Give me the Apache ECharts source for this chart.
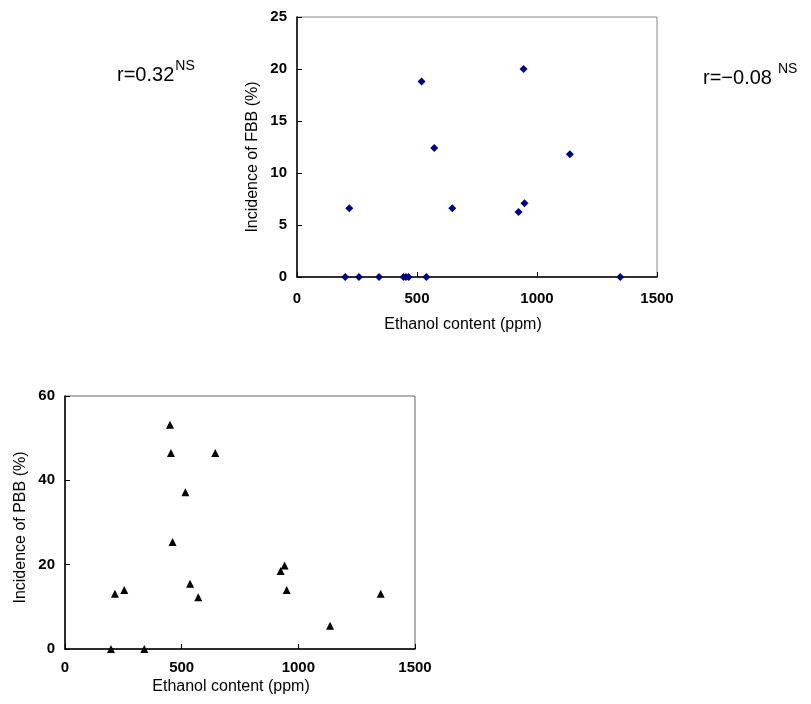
<!DOCTYPE html>
<html>
<head>
<meta charset="utf-8">
<script src="https://cdn.jsdelivr.net/npm/echarts@6/dist/echarts.min.js"></script>
<style>
html,body{margin:0;padding:0;background:#fff;}
#c{width:811px;height:704px;}
</style>
</head>
<body>
<div id="c"></div>
<script>
// Top chart: Ethanol content vs Incidence of FBB
var fbbEthanol = [201, 218, 258, 342, 444, 454, 465, 519, 539, 572, 647, 923, 944, 948, 1137, 1347];
var fbbIncidence = [0, 6.6, 0, 0, 0, 0, 0, 18.8, 0, 12.4, 6.6, 6.25, 20, 7.1, 11.8, 0];
// Bottom chart: Ethanol content vs Incidence of PBB
var pbbEthanol = [197, 214, 254, 340, 450, 454, 461, 516, 536, 571, 644, 924, 941, 950, 1136, 1353];
var pbbIncidence = [0, 13.1, 14, 0, 53.2, 46.5, 25.4, 37.2, 15.5, 12.3, 46.5, 18.5, 19.8, 14, 5.5, 13.1];

var xTicks = [0, 500, 1000, 1500];
var fbbYTicks = [0, 5, 10, 15, 20, 25];
var pbbYTicks = [0, 20, 40, 60];

var xTitle = 'Ethanol content (ppm)';
var fbbTitle = 'Incidence of FBB (%)';
var pbbTitle = 'Incidence of PBB (%)';
var rLabels = ['r=0.32', 'r=\u22120.08'];
var sigLabel = 'NS';

function pairs(xs, ys){ return xs.map(function(x,i){ return [x, ys[i]]; }); }

var FONT = '"Liberation Sans", Arial, sans-serif';
var tickLabel = {color:'#000', fontSize:15, fontWeight:'bold', fontFamily:FONT, formatter:function(v){return String(v);}};

function xAxis(gi, gap, margin, shift){
  return {
    type:'value', gridIndex:gi, min:xTicks[0], max:xTicks[xTicks.length-1], interval:500,
    axisLine:{show:true, lineStyle:{color:'#000', width:1.5}},
    axisTick:{show:true, inside:true, length:5, lineStyle:{color:'#000'}},
    axisLabel:Object.assign({margin:margin}, tickLabel),
    splitLine:{show:false},
    name:xTitle, nameLocation:'middle', nameGap:gap,
    nameTextStyle:{color:'#000', fontSize:16, fontFamily:FONT, padding:[0, shift*2, 0, 0]}
  };
}
function yAxis(gi, ticks, title, gap, shift){
  return {
    type:'value', gridIndex:gi, min:ticks[0], max:ticks[ticks.length-1], interval:ticks[1]-ticks[0],
    axisLine:{show:true, lineStyle:{color:'#000', width:1.5}},
    axisTick:{show:true, inside:true, length:5, lineStyle:{color:'#000'}},
    axisLabel:Object.assign({margin:10}, tickLabel),
    splitLine:{show:false},
    name:title, nameLocation:'middle', nameGap:gap, nameRotate:90,
    nameTextStyle:{color:'#000', fontSize:16, fontFamily:FONT, padding:[0, shift*2, 0, 0]}
  };
}

var chart = echarts.init(document.getElementById('c'), null, {renderer:'canvas'});
chart.setOption({
  backgroundColor:'#fff',
  animation:false,
  grid:[
    {left:297, top:17, width:360, height:260, show:true, borderColor:'#888', borderWidth:1, backgroundColor:'transparent'},
    {left:65, top:396, width:350, height:253, show:true, borderColor:'#666', borderWidth:1, backgroundColor:'transparent'}
  ],
  xAxis:[xAxis(0, 40, 14, 14), xAxis(1, 30, 11, 9)],
  yAxis:[yAxis(0, fbbYTicks, fbbTitle, 36, 10), yAxis(1, pbbYTicks, pbbTitle, 36, 5)],
  series:[
    {type:'scatter', xAxisIndex:0, yAxisIndex:0, symbol:'diamond', symbolSize:8,
     itemStyle:{color:'#000080', opacity:1}, data:pairs(fbbEthanol, fbbIncidence)},
    {type:'scatter', xAxisIndex:1, yAxisIndex:1, symbol:'triangle', symbolSize:8,
     itemStyle:{color:'#000', opacity:1}, data:pairs(pbbEthanol, pbbIncidence)}
  ],
  graphic:[
    {type:'text', left:117, top:59, style:{
      text:'{a|'+rLabels[0]+'}{s|'+sigLabel+'}',
      rich:{a:{fontSize:20, fontFamily:FONT, fill:'#000', verticalAlign:'bottom'},
            s:{fontSize:14, fontFamily:FONT, fill:'#000', verticalAlign:'top', padding:[0,0,12,1]}}
    }},
    {type:'text', left:703, top:62, style:{
      text:'{a|'+rLabels[1]+'}{s|'+sigLabel+'}',
      rich:{a:{fontSize:20, fontFamily:FONT, fill:'#000', verticalAlign:'bottom'},
            s:{fontSize:14, fontFamily:FONT, fill:'#000', verticalAlign:'top', padding:[0,0,12,6]}}
    }}
  ]
});
</script>
</body>
</html>
